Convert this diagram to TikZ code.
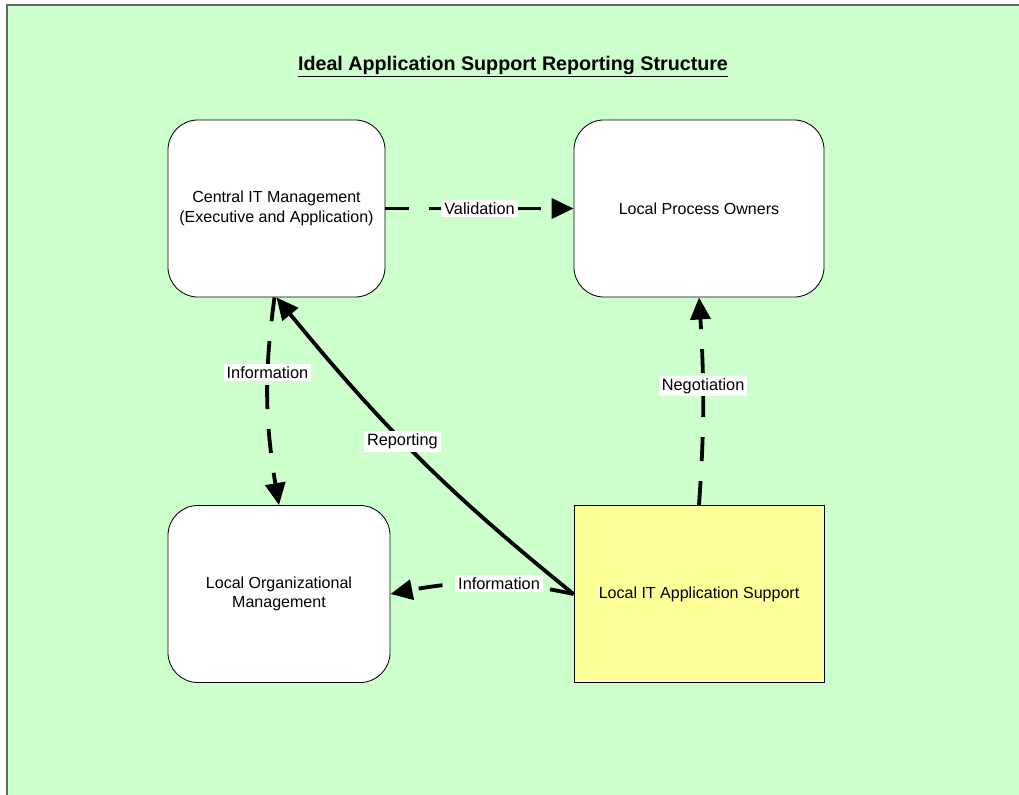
\documentclass[tikz,border=0pt]{standalone}
\usepackage{fontspec}
\setmainfont{Liberation Sans}
\usetikzlibrary{arrows.meta,bending}
\definecolor{bggreen}{HTML}{CCFFCC}
\definecolor{appyellow}{HTML}{FFFF99}

\begin{document}
\begin{tikzpicture}[x=0.025cm,y=-0.025cm,
  roundbox/.style={draw,line width=0.6pt,fill=white,rounded corners=0.75cm,minimum height=4.425cm,align=center,font=\fontsize{11.4}{14}\selectfont},
  plainbox/.style={roundbox,rounded corners=0pt,fill=appyellow},
  link/.style={line width=2.7pt,-{Triangle[length=0.55cm,width=0.5cm]}},
  dashlink/.style={link,dash pattern=on 0.6cm off 0.5cm},
  tlabel/.style={fill=white,inner sep=2pt,font=\fontsize{11.6}{13}\selectfont}
]
\useasboundingbox (0,0) rectangle (1019,795);
\fill[bggreen] (7,5) rectangle (1019,795);
\draw[gray!80!black,line width=0.8pt] (7,795) -- (7,5) -- (1019,5);

\node[font=\bfseries\fontsize{14}{16}\selectfont] (title) at (513,67) {\underline{Ideal Application Support Reporting Structure}};

\node[roundbox,minimum width=5.425cm] (cim) at (276.5,208.5) {Central IT Management\\(Executive and Application)};
\node[roundbox,minimum width=6.25cm] (lpo) at (699,208.5) {Local Process Owners};
\node[roundbox,minimum width=5.55cm] (lom) at (279,594) {Local Organizational\\Management};
\node[plainbox,minimum width=6.25cm] (lit) at (699,594) {Local IT Application Support};

\draw[dashlink] (cim) -- node[tlabel,pos=0.5] {Validation} (lpo);
\draw[dashlink] ([xshift=-0.05cm]cim.south) to[bend right=9] node[tlabel,pos=0.35] {Information} (lom.north);
\draw[link] (lit.west) to[bend left=6] node[tlabel,pos=0.55] {Reporting} (cim.south);
\draw[dashlink] (lit.west) to[bend right=12] node[tlabel,pos=0.4] {Information} (lom.east);
\draw[dashlink] (lit.north) to[bend right=4] node[tlabel,pos=0.58] {Negotiation} (lpo.south);
\end{tikzpicture}
\end{document}
